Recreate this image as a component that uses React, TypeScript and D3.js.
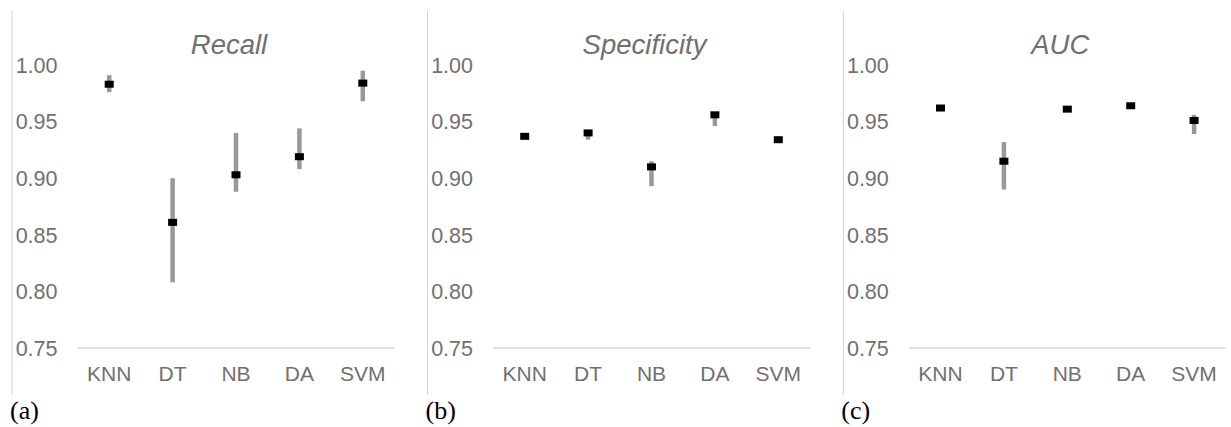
import React from "react";
import * as d3 from "d3";

const categories = ["KNN", "DT", "NB", "DA", "SVM"];
const yTicks = [0.75, 0.8, 0.85, 0.9, 0.95, 1.0];
const panelTitles = ["Recall", "Specificity", "AUC"];
const panelLetters = ["(a)", "(b)", "(c)"];

const recallMean = [0.983, 0.861, 0.903, 0.919, 0.984];
const recallLow = [0.976, 0.808, 0.888, 0.908, 0.968];
const recallHigh = [0.991, 0.9, 0.94, 0.944, 0.995];

const specMean = [0.937, 0.94, 0.91, 0.956, 0.934];
const specLow = [0.936, 0.934, 0.893, 0.946, 0.933];
const specHigh = [0.938, 0.941, 0.915, 0.957, 0.935];

const aucMean = [0.962, 0.915, 0.961, 0.964, 0.951];
const aucLow = [0.961, 0.89, 0.96, 0.963, 0.939];
const aucHigh = [0.963, 0.932, 0.962, 0.965, 0.956];

const panelData = [
  { mean: recallMean, low: recallLow, high: recallHigh },
  { mean: specMean, low: specLow, high: specHigh },
  { mean: aucMean, low: aucLow, high: aucHigh },
];

const W = 1231;
const H = 427;
const panelX = [12, 427.5, 843.3];

const y = d3.scaleLinear().domain([0.75, 1.0]).range([348, 65]);

function Panel({ idx }: { idx: number }) {
  const ox = panelX[idx];
  const x = d3
    .scaleBand<string>()
    .domain(categories)
    .range([ox + 65.5, ox + 382.5])
    .paddingInner(0)
    .paddingOuter(0);
  const d = panelData[idx];
  const font = "'Liberation Sans', Arial, sans-serif";
  const textColor = "#707070";
  return (
    <g>
      <line x1={ox} x2={ox} y1={11} y2={395} stroke="#d0d0d0" strokeWidth={1} />
      <line
        x1={ox + 65.5}
        x2={ox + 382.5}
        y1={y(0.75)}
        y2={y(0.75)}
        stroke="#d9d9d9"
        strokeWidth={1.5}
      />
      {yTicks.map((t) => (
        <text
          key={t}
          x={ox + 45.5}
          y={y(t)}
          dy="0.36em"
          textAnchor="end"
          fontFamily={font}
          fontSize={21.5}
          fill={textColor}
        >
          {t.toFixed(2)}
        </text>
      ))}
      {categories.map((c) => (
        <text
          key={c}
          x={(x(c) as number) + x.bandwidth() / 2}
          y={381}
          textAnchor="middle"
          fontFamily={font}
          fontSize={21}
          fill={textColor}
        >
          {c}
        </text>
      ))}
      <text
        x={ox + 217}
        y={53.5}
        textAnchor="middle"
        fontFamily={font}
        fontSize={27.5}
        fontStyle="italic"
        fill={textColor}
      >
        {panelTitles[idx]}
      </text>
      {categories.map((c, i) => {
        const cx = (x(c) as number) + x.bandwidth() / 2;
        return (
          <g key={c}>
            <line
              x1={cx}
              x2={cx}
              y1={y(d.low[i])}
              y2={y(d.high[i])}
              stroke="#999"
              strokeWidth={4.5}
            />
            <rect x={cx - 4.5} y={y(d.mean[i]) - 3.5} width={9} height={7} fill="#000" />
          </g>
        );
      })}
      <text
        x={ox - 2}
        y={419}
        fontFamily="'Liberation Serif', 'Times New Roman', serif"
        fontSize={26}
        fill="#000"
      >
        {panelLetters[idx]}
      </text>
    </g>
  );
}

export default function App() {
  return (
    <div style={{ position: "absolute", left: 0, top: 0 }}>
      <svg width={W} height={H} style={{ display: "block", background: "#fff" }}>
        <rect width={W} height={H} fill="#fff" />
        {[0, 1, 2].map((i) => (
          <Panel key={i} idx={i} />
        ))}
      </svg>
    </div>
  );
}
